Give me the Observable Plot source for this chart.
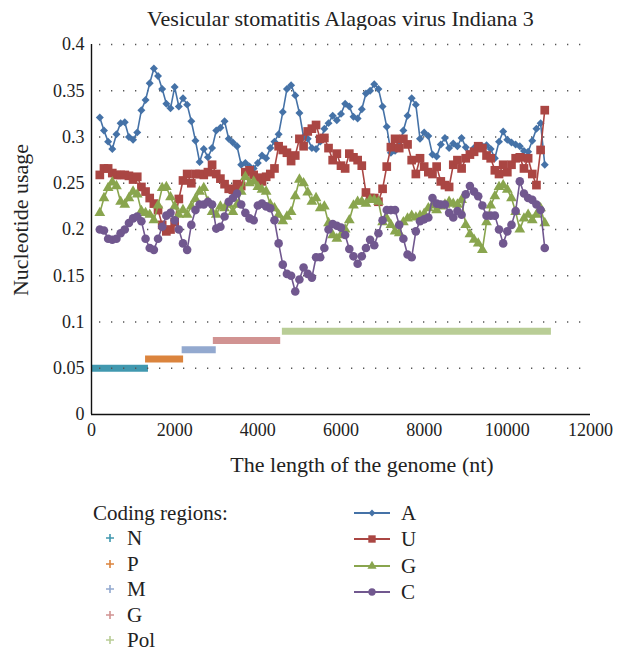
<!DOCTYPE html>
<html><head><meta charset="utf-8">
<script src="https://cdn.jsdelivr.net/npm/d3@7"></script>
<script src="https://cdn.jsdelivr.net/npm/@observablehq/plot@0.6"></script>
<style>
html,body{margin:0;padding:0;background:#fff}
#wrap{position:relative;width:618px;height:651px;overflow:hidden;font-family:"Liberation Serif",serif;color:#222}
.t{position:absolute;white-space:nowrap;line-height:22px;font-size:22px;font-family:"Liberation Serif",serif}
.row{position:absolute;white-space:nowrap;line-height:20px;height:20px;font-size:21px;display:flex;align-items:center;font-family:"Liberation Serif",serif}
</style></head>
<body><div id="wrap">
<div class="t" id="title" style="left:91px;width:499px;top:8px;text-align:center">Vesicular stomatitis Alagoas virus Indiana 3</div>
<div id="chart" style="position:absolute;left:0;top:30px"></div>
<div class="t" id="ylab" style="left:21px;top:220px;transform:translate(-50%,-50%) rotate(-90deg)">Nucleotide usage</div>
<div class="t" id="xlab" style="left:162px;width:400px;top:454px;text-align:center">The length of the genome (nt)</div>
<div id="legend"></div>
</div>
<script>
// genome window positions (nt)
const positions = [
 200,300,400,500,600,700,800,900,1000,1100,
 1200,1300,1400,1500,1600,1700,1800,1900,2000,2100,
 2200,2300,2400,2500,2600,2700,2800,2900,3000,3100,
 3200,3300,3400,3500,3600,3700,3800,3900,4000,4100,
 4200,4300,4400,4500,4600,4700,4800,4900,5000,5100,
 5200,5300,5400,5500,5600,5700,5800,5900,6000,6100,
 6200,6300,6400,6500,6600,6700,6800,6900,7000,7100,
 7200,7300,7400,7500,7600,7700,7800,7900,8000,8100,
 8200,8300,8400,8500,8600,8700,8800,8900,9000,9100,
 9200,9300,9400,9500,9600,9700,9800,9900,10000,10100,
 10200,10300,10400,10500,10600,10700,10800,10900];

const A_usage = [
 .321,.307,.295,.287,.303,.315,.316,.300,.297,.305,
 .329,.340,.358,.374,.366,.352,.336,.331,.354,.333,
 .342,.335,.317,.296,.273,.287,.278,.288,.307,.310,
 .317,.298,.294,.290,.270,.272,.268,.266,.272,.280,
 .277,.288,.295,.303,.327,.352,.356,.345,.326,.300,
 .298,.288,.287,.295,.309,.315,.323,.318,.325,.336,
 .333,.322,.320,.330,.347,.350,.357,.352,.333,.311,
 .283,.285,.291,.307,.323,.342,.335,.298,.305,.301,
 .281,.279,.292,.299,.288,.293,.290,.299,.289,.282,
 .288,.290,.290,.291,.287,.277,.295,.306,.297,.294,
 .292,.290,.285,.284,.296,.309,.315,.270];

const U_usage = [
 .259,.266,.266,.261,.259,.259,.259,.258,.254,.257,
 .246,.241,.234,.228,.221,.205,.198,.200,.208,.233,
 .253,.260,.250,.260,.260,.259,.262,.270,.260,.255,
 .249,.244,.243,.249,.247,.262,.264,.259,.256,.252,
 .257,.260,.266,.290,.286,.283,.274,.280,.298,.290,
 .306,.309,.313,.298,.299,.288,.275,.282,.269,.266,
 .282,.278,.275,.269,.240,.234,.234,.230,.244,.268,
 .289,.298,.288,.298,.292,.275,.260,.277,.268,.262,
 .260,.268,.252,.248,.246,.270,.275,.266,.277,.281,
 .284,.290,.288,.280,.277,.264,.260,.270,.262,.270,
 .277,.278,.266,.277,.260,.248,.286,.329];

const G_usage = [
 .218,.234,.245,.251,.247,.230,.227,.234,.241,.238,
 .220,.218,.216,.210,.226,.245,.246,.235,.225,.216,
 .221,.216,.225,.233,.241,.245,.230,.219,.216,.225,
 .223,.227,.219,.227,.241,.257,.250,.252,.246,.243,
 .241,.227,.223,.216,.209,.214,.219,.236,.254,.250,
 .240,.230,.234,.223,.225,.207,.194,.190,.194,.200,
 .210,.226,.230,.230,.228,.232,.232,.230,.208,.212,
 .205,.198,.196,.208,.212,.215,.213,.215,.217,.223,
 .226,.221,.225,.227,.230,.228,.227,.232,.205,.195,
 .189,.185,.178,.208,.226,.236,.246,.248,.243,.234,
 .219,.200,.212,.216,.210,.216,.223,.207];

const C_usage = [
 .200,.199,.190,.189,.190,.196,.200,.207,.212,.214,
 .209,.190,.180,.178,.190,.203,.215,.218,.210,.200,
 .185,.178,.205,.221,.227,.227,.230,.227,.201,.203,
 .214,.230,.234,.239,.227,.218,.212,.210,.226,.228,
 .225,.223,.210,.185,.162,.152,.150,.133,.146,.159,
 .152,.148,.170,.170,.180,.200,.206,.204,.202,.194,
 .179,.171,.163,.171,.180,.189,.183,.196,.210,.221,
 .221,.221,.205,.190,.173,.170,.198,.209,.211,.213,
 .234,.228,.227,.227,.218,.213,.220,.216,.238,.247,
 .241,.236,.226,.215,.215,.215,.200,.185,.198,.205,
 .220,.252,.239,.234,.232,.227,.221,.180];

const seriesNames = ["A","U","G","C"];
const seriesColors = ["#4572A7","#AA4643","#89A54E","#71588F"];
const seriesSymbols = ["diamond2","square","triangle","circle"];
const seriesR = [3.6, 4.9, 4.0, 4.3];

const regionNames = ["N","P","M","G","Pol"];
const regionStart = [20,1300,2180,2930,4590];
const regionEnd = [1370,2215,3000,4550,11060];
const regionLevel = [0.05,0.06,0.07,0.08,0.09];
const regionColors = ["#4198AF","#DB843D","#93A9CF","#D19392","#B9CD96"];

const yTicks = [0,0.05,0.1,0.15,0.2,0.25,0.3,0.35,0.4];
const yTickLabels = ["0","0.05","0.1","0.15","0.2","0.25","0.3","0.35","0.4"];
const xTicks = [0,2000,4000,6000,8000,10000,12000];
const xTickLabels = ["0","2000","4000","6000","8000","10000","12000"];

const usage = [A_usage, U_usage, G_usage, C_usage];
const seriesRows = seriesNames.map((s,k)=>positions.map((p,i)=>({pos:p, v:usage[k][i], s})));
const regionRows = regionNames.map((n,i)=>({name:n, start:regionStart[i], end:regionEnd[i], level:regionLevel[i]}));

const serif = '"Liberation Serif", serif';
const marks = [];
regionRows.forEach((r,i)=>{
  marks.push(Plot.ruleY([r], {y:"level", x1:"start", x2:"end", stroke: regionColors[i], strokeWidth: 7}));
});
marks.push(Plot.gridY(yTicks.slice(1), {stroke:"#555", strokeOpacity:1, strokeWidth:1.3, strokeDasharray:"1.3,10.7", strokeDashoffset:-8}));
marks.push(Plot.ruleX([0], {stroke:"#111", strokeWidth:1.4}));
marks.push(Plot.ruleY([0], {stroke:"#111", strokeWidth:1.4}));
seriesRows.forEach((rows,k)=>{
  marks.push(Plot.line(rows, {x:"pos", y:"v", stroke: seriesColors[k], strokeWidth:1.6}));
  marks.push(Plot.dot(rows, {x:"pos", y:"v", symbol: seriesSymbols[k], r: seriesR[k], fill: seriesColors[k], stroke:"none"}));
});
marks.push(Plot.axisY(yTicks, {tickSize:0, tickPadding:7, tickFormat: d => yTickLabels[yTicks.indexOf(d)], label:null, fontSize:18, fontFamily: serif}));
marks.push(Plot.axisX(xTicks, {tickSize:0, tickPadding:9, tickFormat: d => xTickLabels[xTicks.indexOf(d)], label:null, fontSize:18, fontFamily: serif}));

const chart = Plot.plot({
  width: 618, height: 420,
  marginLeft: 91, marginRight: 28, marginTop: 14, marginBottom: 36,
  x: {domain:[0,12000]},
  y: {domain:[0,0.4]},
  style: {fontFamily: serif, fontSize:"18px", color:"#222", background:"#fff", overflow:"visible"},
  marks
});
document.getElementById("chart").appendChild(chart);

// legend
const leg = document.getElementById("legend");
function addRow(left, top, html){
  const d = document.createElement("div");
  d.className = "row"; d.style.left = left+"px"; d.style.top = top+"px";
  d.innerHTML = html; leg.appendChild(d);
}
addRow(93, 503, "Coding regions:");
regionNames.forEach((n,i)=>{
  const c = regionColors[i];
  const sw = `<svg width="10" height="10" style="margin-right:12px"><path d="M1,5H9M5,1V9" stroke="${c}" stroke-width="1.6"/></svg>`;
  addRow(105, 528 + i*25.5, sw + n);
});
const symMap = {diamond2:d3.symbolDiamond2, square:d3.symbolSquare, triangle:d3.symbolTriangle, circle:d3.symbolCircle};
seriesNames.forEach((n,k)=>{
  const c = seriesColors[k];
  const r = seriesR[k] * 0.85;
  const p = d3.symbol(symMap[seriesSymbols[k]], Math.PI*r*r)();
  const sw = `<svg width="36" height="12" style="margin-right:11px"><line x1="0" x2="36" y1="6" y2="6" stroke="${c}" stroke-width="1.8"/><path transform="translate(18,6)" d="${p}" fill="${c}"/></svg>`;
  addRow(354, 503 + k*26.4, sw + n);
});
</script>
</body></html>
